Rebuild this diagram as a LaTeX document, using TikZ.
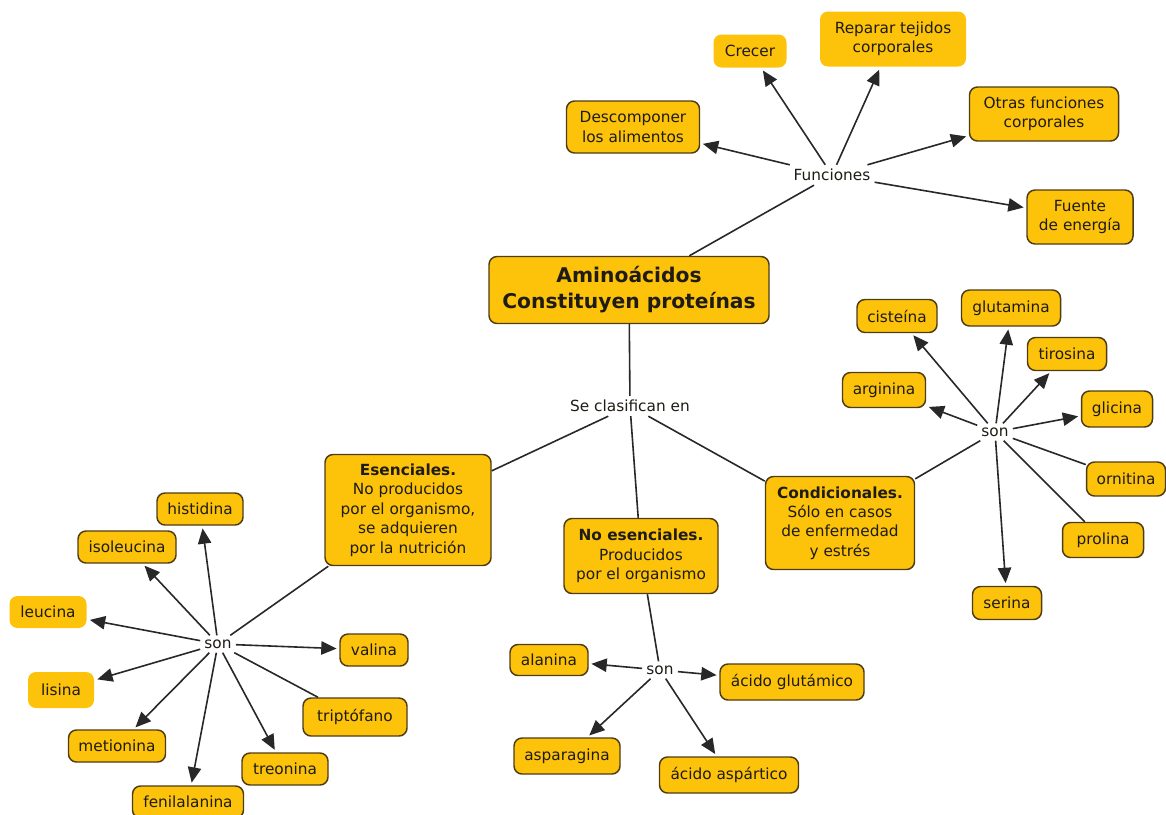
\documentclass[tikz,border=0pt]{standalone}
\usepackage{fontspec}
\setmainfont{DejaVu Sans}
\usetikzlibrary{arrows.meta}
\definecolor{gold}{RGB}{253,194,10}
\definecolor{bord}{RGB}{78,60,20}
\definecolor{lin}{RGB}{40,40,40}
\definecolor{txt}{RGB}{30,28,20}
\newcommand\nfont{\fontsize{11.5}{14.6}\selectfont}
\newcommand\tfont{\fontsize{15.2}{19.5}\selectfont\bfseries}
\tikzset{
  bx/.style={draw=bord, line width=1.1pt, fill=gold, rounded corners=6pt, align=center, inner sep=0pt, font=\nfont, text=txt},
  nb/.style={bx, draw=none},
  sz/.style 2 args={minimum width=#1*0.75pt, minimum height=#2*0.75pt},
  lab/.style={font=\nfont, inner sep=3pt, text=txt},
  ln/.style={draw=lin, line width=1.2pt},
  ar/.style={ln, -{Triangle[length=11.5pt,width=10pt]}, shorten >=2pt},
}
\begin{document}
\begin{tikzpicture}[x=0.75pt, y=-0.75pt]
\useasboundingbox (0,0) rectangle (1166,814);
% main
\node[bx, sz={280}{67}, font=\tfont] (main) at (629,290) {Aminoácidos\\Constituyen proteínas};
% funciones
\node[lab] (fun) at (832,175) {Funciones};
\node[bx, sz={133}{52}] (desc) at (633,127) {Descomponer\\los alimentos};
\node[nb, sz={73}{33}] (crec) at (750,51) {Crecer};
\node[nb, sz={146}{55}] (rep) at (893,39) {Reparar tejidos\\corporales};
\node[bx, sz={149}{54}] (otr) at (1044,114) {Otras funciones\\corporales};
\node[bx, sz={106}{54}] (fue) at (1080,217) {Fuente\\de energía};
% clasificacion
\node[lab] (sc) at (630,406) {Se clasifican en};
\node[bx, sz={166}{111}] (ese) at (408,510) {\textbf{Esenciales.}\\No producidos\\por el organismo,\\se adquieren\\por la nutrición};
\node[bx, sz={154}{75}] (noe) at (641,556) {\textbf{No esenciales.}\\Producidos\\por el organismo};
\node[bx, sz={149}{93}] (con) at (840,523) {\textbf{Condicionales.}\\Sólo en casos\\de enfermedad\\y estrés};
% esenciales
\node[lab] (sonL) at (218,644) {son};
\node[bx, sz={86}{32}] (his) at (200,509) {histidina};
\node[bx, sz={98}{32}] (iso) at (127,547) {isoleucina};
\node[nb, sz={77}{32}] (leu) at (48,612) {leucina};
\node[bx, sz={68}{32}] (val) at (374,650) {valina};
\node[nb, sz={66}{36}] (lis) at (61,690) {lisina};
\node[bx, sz={104}{38}] (tri) at (355,717) {triptófano};
\node[bx, sz={97}{32}] (met) at (117,746) {metionina};
\node[bx, sz={86}{32}] (tre) at (285,769) {treonina};
\node[bx, sz={111}{32}] (fen) at (188,802) {fenilalanina};
% no esenciales
\node[lab] (sonM) at (660,670) {son};
\node[bx, sz={78}{31}] (ala) at (549,660) {alanina};
\node[bx, sz={144}{36}] (glu) at (792,682) {ácido glutámico};
\node[bx, sz={106}{36}] (asp) at (567,756) {asparagina};
\node[bx, sz={139}{36}] (aspr) at (729,775) {ácido aspártico};
% condicionales
\node[lab] (sonR) at (995,432) {son};
\node[bx, sz={80}{33}] (cis) at (897,316) {cisteína};
\node[bx, sz={99}{36}] (glut) at (1011,308) {glutamina};
\node[bx, sz={79}{33}] (tir) at (1067,354) {tirosina};
\node[bx, sz={83}{35}] (arg) at (884,390) {arginina};
\node[bx, sz={71}{36}] (gli) at (1117,409) {glicina};
\node[bx, sz={79}{34}] (orn) at (1126,479) {ornitina};
\node[bx, sz={81}{35}] (pro) at (1103,540) {prolina};
\node[bx, sz={69}{33}] (ser) at (1007,603) {serina};
% connectors
\draw[ln] (main) -- (fun);
\draw[ar] (fun) -- (desc);
\draw[ar] (fun) -- (crec);
\draw[ar] (fun) -- (rep);
\draw[ar] (fun) -- (otr);
\draw[ar] (fun) -- (fue);
\draw[ln] (main) -- (sc);
\draw[ln] (sc) -- (ese);
\draw[ln] (sc) -- (noe);
\draw[ln] (sc) -- (con);
\draw[ln] (ese) -- (sonL);
\draw[ar] (sonL) -- (his);
\draw[ar] (sonL) -- (iso);
\draw[ar] (sonL) -- (leu);
\draw[ar] (sonL) -- (val);
\draw[ar] (sonL) -- (lis);
\draw[ln] (sonL) -- (tri);
\draw[ar] (sonL) -- (met);
\draw[ar] (sonL) -- (tre);
\draw[ar] (sonL) -- (fen);
\draw[ln] (noe) -- (sonM);
\draw[ar] (sonM) -- (ala);
\draw[ar] (sonM) -- (glu);
\draw[ar] (sonM) -- (asp);
\draw[ar] (sonM) -- (aspr);
\draw[ln] (con) -- (sonR);
\draw[ar] (sonR) -- (cis);
\draw[ar] (sonR) -- (glut);
\draw[ar] (sonR) -- (tir);
\draw[ar] (sonR) -- (arg);
\draw[ar] (sonR) -- (gli);
\draw[ln] (sonR) -- (orn);
\draw[ln] (sonR) -- (pro);
\draw[ar] (sonR) -- (ser);
\end{tikzpicture}
\end{document}
